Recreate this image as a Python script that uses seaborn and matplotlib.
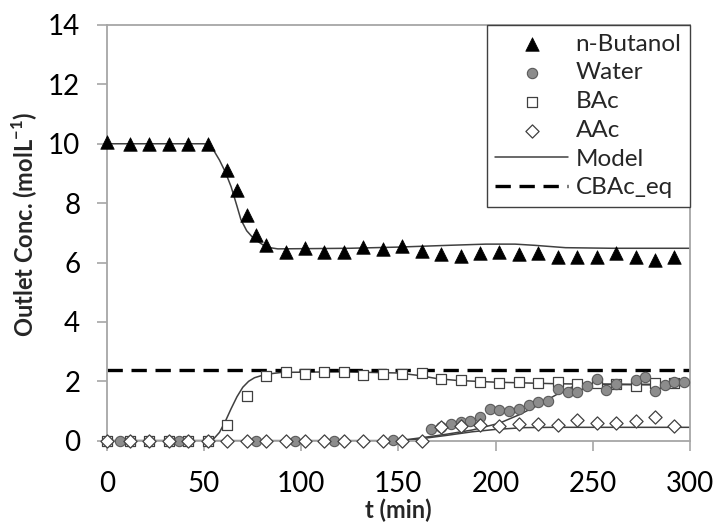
import matplotlib
matplotlib.use("Agg")
import matplotlib.pyplot as plt
import seaborn as sns

# ---- measured data ----
t_but = [0, 12, 22, 32, 42, 52, 62, 67, 72, 77, 82, 92, 102, 112, 122, 132, 142, 152,
         162, 172, 182, 192, 202, 212, 222, 232, 242, 252, 262, 272, 282, 292]
butanol = [10.05, 10.0, 10.0, 10.0, 10.0, 10.0, 9.11, 8.44, 7.60, 6.93, 6.59, 6.36, 6.50,
           6.36, 6.36, 6.51, 6.44, 6.56, 6.40, 6.29, 6.22, 6.31, 6.35, 6.29, 6.31, 6.18,
           6.18, 6.18, 6.33, 6.18, 6.08, 6.20]

t_water = [7, 37, 77, 97, 117, 147, 167, 172, 177, 182, 187, 192, 197, 202, 207, 212, 217,
           222, 227, 232, 237, 242, 247, 252, 257, 262, 272, 277, 282, 287, 292, 297]
water = [0, 0, 0, 0, 0, 0.03, 0.38, 0.47, 0.55, 0.62, 0.67, 0.79, 1.07, 1.03, 1.01, 1.06,
         1.20, 1.31, 1.35, 1.73, 1.65, 1.63, 1.84, 2.07, 1.71, 1.90, 2.04, 2.15, 1.67, 1.88,
         1.99, 1.99]

t_acid = [0, 12, 22, 32, 42, 52, 62, 72, 82, 92, 102, 112, 122, 132, 142, 152, 162, 172,
          182, 192, 202, 212, 222, 232, 242, 252, 262, 272, 282, 292]
bac = [0, 0, 0, 0, 0, 0, 0.53, 1.52, 2.18, 2.32, 2.24, 2.30, 2.33, 2.21, 2.25, 2.24, 2.29,
       2.07, 2.04, 1.99, 1.93, 1.97, 1.93, 1.97, 1.91, 1.93, 1.90, 1.84, 1.93, 1.93]
aac = [0, 0, 0, 0, 0, 0, 0, 0, 0, 0, 0, 0, 0, 0, 0, 0, 0, 0.47, 0.49, 0.53, 0.49, 0.56,
       0.56, 0.53, 0.70, 0.59, 0.59, 0.67, 0.79, 0.51]

# model curves
tm_but = [0, 50, 52, 55, 58, 61, 64, 67, 69, 72, 75, 78, 82, 88, 125, 150, 176, 195, 210,
          220, 236, 260, 300]
m_but = [10.0, 10.0, 9.97, 9.78, 9.45, 9.05, 8.55, 7.9, 7.45, 7.07, 6.85, 6.7, 6.52, 6.46,
         6.48, 6.52, 6.58, 6.62, 6.62, 6.58, 6.5, 6.48, 6.48]
tm_bac = [0, 52, 55, 58, 61, 64, 67, 70, 73, 76, 80, 85, 90, 120, 150, 160, 170, 180, 200,
          230, 260, 300]
m_bac = [0, 0, 0.06, 0.28, 0.65, 1.08, 1.48, 1.8, 2.0, 2.12, 2.2, 2.26, 2.3, 2.32, 2.28,
         2.2, 2.09, 2.03, 1.97, 1.92, 1.89, 1.87]
tm_water = [0, 150, 162, 175, 188, 202, 212, 222, 231, 239, 250, 270, 300]
m_water = [0, 0, 0.1, 0.22, 0.36, 0.59, 0.87, 1.2, 1.54, 1.8, 1.91, 1.9, 1.9]
tm_aac = [0, 152, 162, 175, 188, 200, 215, 230, 300]
m_aac = [0, 0, 0.07, 0.18, 0.3, 0.38, 0.44, 0.45, 0.45]

t_eq = [0, 300]
c_eq = [2.37, 2.37]

x_ticks = [0, 50, 100, 150, 200, 250, 300]
y_ticks = [0, 2, 4, 6, 8, 10, 12, 14]

# ---- style ----
sns.set_style("ticks")
plt.rcParams['font.family'] = ['Lato', 'DejaVu Sans']
plt.rcParams['mathtext.fontset'] = 'custom'
plt.rcParams['mathtext.rm'] = 'Lato'
plt.rcParams['mathtext.bf'] = 'Lato:bold'

fig = plt.figure(figsize=(7.19, 5.24), dpi=100)
ax = fig.add_axes([0.1484, 0.159, 0.8113, 0.7933])

grey = '#a6a6a6'
model_col = '#404040'

# model lines
sns.lineplot(x=tm_but, y=m_but, ax=ax, color=model_col, lw=1.1, estimator=None,
             sort=False, label='Model', zorder=2)
for tt, mm in [(tm_bac, m_bac), (tm_water, m_water), (tm_aac, m_aac)]:
    sns.lineplot(x=tt, y=mm, ax=ax, color=model_col, lw=1.1, estimator=None,
                 sort=False, zorder=2)
# equilibrium line
sns.lineplot(x=t_eq, y=c_eq, ax=ax, color='black', lw=2.4, estimator=None,
             linestyle=(0, (4.6, 2.6)), label='CBAc_eq', zorder=2)

# markers
sns.scatterplot(x=t_but, y=butanol, ax=ax, marker='^', s=95, color='black',
                edgecolor='black', linewidth=0.5, label='n-Butanol', zorder=5, clip_on=False)
sns.scatterplot(x=t_acid, y=bac, ax=ax, marker='s', s=50, color='white',
                edgecolor='#404040', linewidth=0.9, label='BAc', zorder=4, clip_on=False)
sns.scatterplot(x=t_water, y=water, ax=ax, marker='o', s=55, color='#8c8c8c',
                edgecolor='#5a5a5a', linewidth=0.8, label='Water', zorder=5, clip_on=False)
sns.scatterplot(x=t_acid, y=aac, ax=ax, marker='D', s=45, color='white',
                edgecolor='#404040', linewidth=0.9, label='AAc', zorder=6, clip_on=False)

ax.set_xlim(0, 300)
ax.set_ylim(0, 14)
ax.set_xticks(x_ticks)
ax.set_yticks(y_ticks)
ax.set_xticklabels([str(v) for v in x_ticks])
ax.set_yticklabels([str(v) for v in y_ticks])

for sp in ax.spines.values():
    sp.set_visible(True)
    sp.set_color(grey)
    sp.set_linewidth(1.3)
ax.tick_params(direction='out', length=7, width=1.2, color=grey, labelsize=20,
               labelcolor='black')
ax.tick_params(axis='x', pad=14.5)
ax.tick_params(axis='y', pad=12)

ax.set_xlabel('t (min)', fontsize=17, fontweight='bold')
ax.set_ylabel(r'Outlet Conc. (molL$^{\mathbf{-1}}$)', fontsize=17, fontweight='bold')
ax.xaxis.set_label_coords(0.5, -0.14)
ax.yaxis.set_label_coords(-0.114, 0.52)

handles, labels = ax.get_legend_handles_labels()
order = ['n-Butanol', 'Water', 'BAc', 'AAc', 'Model', 'CBAc_eq']
hmap = dict(zip(labels, handles))
leg = ax.legend([hmap[k] for k in order], order, loc='upper right',
                bbox_to_anchor=(1.0, 1.0), borderaxespad=0, fontsize=17.5,
                frameon=True, fancybox=False, framealpha=1, edgecolor='#404040',
                handlelength=3.0, labelspacing=0.32, borderpad=0.35, handletextpad=0.3)
leg.get_frame().set_linewidth(1.0)
leg.set_zorder(10)

fig.savefig('out.png', dpi=100)
